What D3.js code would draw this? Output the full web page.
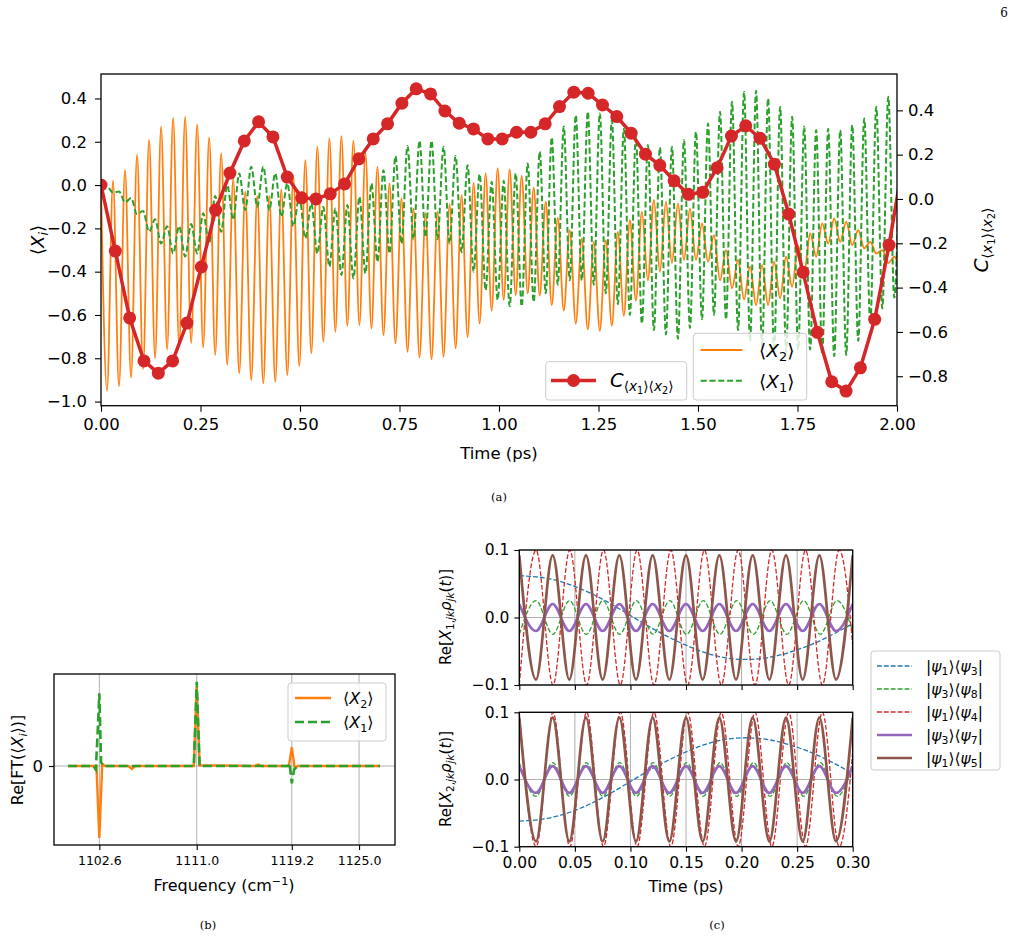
<!DOCTYPE html>
<html lang="en">
<head>
<meta charset="UTF-8">
<title>Expectation values, spectra and coherences</title>
<script src="https://cdn.jsdelivr.net/npm/d3@7"></script>
<style>
  body { margin: 0; background: #fff; }
  svg { font-family: 'DejaVu Sans', sans-serif; }
</style>
</head>
<body>
<svg id="fig" width="1016" height="943"></svg>
<script>
// ---------- panel (a) data ----------
// fast oscillation: peaks at k*T, troughs at (k+0.5)*T
var T_FAST = 0.0302;
var x2Peaks = [0.0, 0.02, 0.07, 0.14, 0.21, 0.27, 0.31, 0.315, 0.28, 0.22,
  0.146, 0.03, -0.03, -0.05, -0.05, -0.02, 0.04, 0.115, 0.177, 0.216,
  0.226, 0.205, 0.15, 0.085, 0.008, -0.06, -0.108, -0.131, -0.123, -0.088,
  -0.046, 0.01, 0.054, 0.077, 0.072, 0.042, -0.012, -0.077, -0.15, -0.208,
  -0.246, -0.262, -0.254, -0.216, -0.162, -0.123, -0.069, -0.077, -0.085, -0.108,
  -0.177, -0.231, -0.30, -0.346, -0.377, -0.37, -0.354, -0.331, -0.28, -0.223,
  -0.177, -0.154, -0.169, -0.208, -0.262, -0.30, -0.331];
var x2Troughs = [-0.95, -0.93, -0.89, -0.85, -0.80, -0.76, -0.74, -0.73, -0.75, -0.785,
  -0.83, -0.87, -0.90, -0.916, -0.908, -0.878, -0.836, -0.777, -0.724, -0.678,
  -0.651, -0.647, -0.662, -0.693, -0.731, -0.77, -0.796, -0.804, -0.793, -0.754,
  -0.703, -0.639, -0.58, -0.53, -0.508, -0.50, -0.51, -0.554, -0.58, -0.64,
  -0.667, -0.673, -0.649, -0.603, -0.535, -0.44, -0.40, -0.36, -0.346, -0.346,
  -0.354, -0.44, -0.477, -0.528, -0.554, -0.554, -0.523, -0.47, -0.408, -0.331,
  -0.27, -0.262, -0.277, -0.292, -0.316, -0.36, -0.42];
// <X1>: troughs at k*T, peaks at (k+0.5)*T
var x1Troughs = [0.0, -0.035, -0.08, -0.134, -0.215, -0.27, -0.316, -0.33, -0.316, -0.27,
  -0.216, -0.16, -0.115, -0.10, -0.115, -0.146, -0.19, -0.246, -0.316, -0.377,
  -0.415, -0.431, -0.408, -0.354, -0.316, -0.27, -0.25, -0.24, -0.25, -0.27,
  -0.31, -0.40, -0.485, -0.53, -0.56, -0.56, -0.54, -0.50, -0.46, -0.44,
  -0.44, -0.46, -0.50, -0.55, -0.60, -0.64, -0.67, -0.69, -0.71, -0.66,
  -0.62, -0.60, -0.62, -0.67, -0.72, -0.75, -0.77, -0.77, -0.76, -0.76,
  -0.78, -0.79, -0.785, -0.72, -0.64, -0.57, -0.52];
var x1Peaks = [-0.005, -0.03, -0.06, -0.12, -0.158, -0.19, -0.19, -0.18, -0.13, -0.05,
  0.0, 0.054, 0.085, 0.085, 0.054, 0.008, -0.054, -0.085, -0.10, -0.108,
  -0.092, -0.054, 0.008, 0.069, 0.134, 0.18, 0.205, 0.205, 0.177, 0.134,
  0.092, 0.05, 0.015, 0.02, 0.054, 0.10, 0.155, 0.22, 0.27, 0.323,
  0.339, 0.331, 0.30, 0.26, 0.223, 0.185, 0.174, 0.177, 0.208, 0.246,
  0.284, 0.339, 0.385, 0.431, 0.436, 0.40, 0.362, 0.316, 0.27, 0.254,
  0.26, 0.254, 0.277, 0.308, 0.362, 0.408, 0.42];
// correlation C, one value every 0.036 ps
var corrStep = 0.036;
var corrValues = [0.063, -0.235, -0.537, -0.731, -0.786, -0.731, -0.560, -0.307, -0.050, 0.117,
  0.262, 0.348, 0.280, 0.099, 0.005, 0.0, 0.023, 0.068, 0.181, 0.271,
  0.339, 0.432, 0.497, 0.474, 0.397, 0.342, 0.316, 0.271, 0.271, 0.301,
  0.301, 0.339, 0.417, 0.482, 0.477, 0.424, 0.372, 0.297, 0.202, 0.152,
  0.082, 0.021, 0.030, 0.141, 0.284, 0.330, 0.274, 0.157, -0.068, -0.331,
  -0.602, -0.825, -0.867, -0.762, -0.543, -0.208, 0.172];
var timeTicksA = [0, 0.25, 0.5, 0.75, 1.0, 1.25, 1.5, 1.75, 2.0];
var xiTicks = [-1.0, -0.8, -0.6, -0.4, -0.2, 0.0, 0.2, 0.4];
var corrTicks = [-0.8, -0.6, -0.4, -0.2, 0.0, 0.2, 0.4];

// ---------- panel (b) data ----------
var freqTicks = [1102.6, 1111.0, 1119.2, 1125.0];
var ftFreqX2 = [1099.9, 1102.0, 1102.35, 1102.6, 1102.85, 1103.1, 1105.1, 1105.4, 1105.7, 1110.75,
  1111.0, 1111.25, 1116.0, 1116.3, 1116.6, 1118.95, 1119.2, 1119.45, 1119.7, 1126.8];
var ftValX2 = [0, 0, 0.0, -1.0, 0.03, 0, 0, -0.04, 0, 0,
  1.10, 0.01, 0, 0.02, 0, 0, 0.26, -0.03, 0, 0];
var ftFreqX1 = [1099.9, 1102.1, 1102.3, 1102.45, 1102.6, 1102.75, 1102.95, 1110.75, 1111.0, 1111.25,
  1118.9, 1119.0, 1119.2, 1119.4, 1119.7, 1126.8];
var ftValX1 = [0, 0, -0.05, 0.45, 1.01, 0.05, 0, 0, 1.17, 0,
  0, 0.04, -0.24, -0.05, 0, 0];

// ---------- panel (c) data ----------
var timeTicksC = [0, 0.05, 0.10, 0.15, 0.20, 0.25, 0.30];
var cTicksY = [-0.1, 0.0, 0.1];
var slowTime = [0, 0.025, 0.05, 0.075, 0.1, 0.125, 0.15, 0.175, 0.2, 0.225, 0.25, 0.275, 0.3];
var blue1 = [0.062, 0.058, 0.046, 0.027, 0.003, -0.021, -0.041, -0.056, -0.062, -0.059, -0.048, -0.031, -0.009];
var blue2 = [-0.062, -0.058, -0.046, -0.027, -0.003, 0.021, 0.041, 0.056, 0.062, 0.059, 0.048, 0.031, 0.009];
// half periods (ps) and successive extrema of the fast terms
var halfGreen = 0.01505, halfRed = 0.01515, halfPurple = 0.015, halfBrown = 0.015;
var green1 = [-0.025, 0.025, -0.025, 0.025, -0.025, 0.025, -0.025, 0.025, -0.025, 0.025, -0.025,
  0.025, -0.025, 0.025, -0.025, 0.025, -0.025, 0.025, -0.025, 0.025, -0.025];
var green2 = [0.025, -0.025, 0.025, -0.025, 0.025, -0.025, 0.025, -0.025, 0.025, -0.025, 0.025,
  -0.025, 0.025, -0.025, 0.025, -0.025, 0.025, -0.025, 0.025, -0.025, 0.025];
var red1 = [-0.1, 0.1, -0.1, 0.1, -0.1, 0.1, -0.1, 0.1, -0.1, 0.1, -0.1,
  0.1, -0.1, 0.1, -0.1, 0.1, -0.1, 0.1, -0.1, 0.1, -0.1];
var red2 = [0.1, -0.1, 0.1, -0.1, 0.1, -0.1, 0.1, -0.1, 0.1, -0.1, 0.1,
  -0.1, 0.1, -0.1, 0.1, -0.1, 0.1, -0.1, 0.1, -0.1, 0.1];
var purple1 = [0.02, -0.02, 0.02, -0.02, 0.02, -0.02, 0.02, -0.02, 0.02, -0.02, 0.02,
  -0.02, 0.02, -0.02, 0.02, -0.02, 0.02, -0.02, 0.02, -0.02, 0.02];
var purple2 = purple1.slice();
var brown1 = [0.092, -0.092, 0.092, -0.092, 0.092, -0.092, 0.092, -0.092, 0.092, -0.092, 0.092,
  -0.092, 0.092, -0.092, 0.092, -0.092, 0.092, -0.092, 0.092, -0.092, 0.092];
var brown2 = brown1.slice();

// ---------- helpers ----------
var FONT = "'DejaVu Sans', sans-serif";
var SERIF = "'DejaVu Serif', serif";
var C_BLUE = '#1f77b4', C_ORANGE = '#ff7f0e', C_GREEN = '#2ca02c',
    C_RED = '#d62728', C_PURPLE = '#9467bd', C_BROWN = '#8c564b';
var svg = d3.select('#fig');

// parts: [text, italic, level]; level 0 normal, 1 subscript, 2 sub-subscript, -1 superscript
function mathText(text, parts, size) {
  var shift = {'0': 0, '1': 0.22 * size, '2': 0.36 * size, '-1': -0.38 * size};
  var scale = {'0': 1, '1': 0.7, '2': 0.5, '-1': 0.7};
  var cur = 0;
  parts.forEach(function(p) {
    var lv = String(p[2] || 0);
    text.append('tspan')
      .attr('dy', shift[lv] - cur)
      .style('font-size', (size * scale[lv]) + 'px')
      .style('font-style', p[1] ? 'italic' : 'normal')
      .text(p[0]);
    cur = shift[lv];
  });
  return text;
}

function interleave(first, second, half) {
  var pts = [];
  for (var k = 0; k < Math.max(first.length, second.length); k++) {
    if (k < first.length) pts.push([2 * k * half, first[k]]);
    if (k < second.length) pts.push([(2 * k + 1) * half, second[k]]);
  }
  return pts;
}

function alternating(vals, half) {
  return vals.map(function(v, i) { return [i * half, v]; });
}

function styleAxis(g, size) {
  g.select('.domain').remove();
  g.selectAll('.tick line').attr('stroke', '#000').attr('stroke-width', 1.1);
  g.selectAll('.tick text').attr('fill', '#000')
    .style('font-family', FONT).style('font-size', size + 'px');
}

function clipRect(id, x0, y0, x1, y1) {
  svg.append('clipPath').attr('id', id).append('rect')
    .attr('x', x0).attr('y', y0).attr('width', x1 - x0).attr('height', y1 - y0);
  return 'url(#' + id + ')';
}

function spines(x0, y0, x1, y1) {
  svg.append('rect').attr('x', x0).attr('y', y0).attr('width', x1 - x0).attr('height', y1 - y0)
    .attr('fill', 'none').attr('stroke', '#000').attr('stroke-width', 1.3);
}

function legendBox(x, y, w, h) {
  svg.append('rect').attr('x', x).attr('y', y).attr('width', w).attr('height', h)
    .attr('rx', 3).attr('fill', '#fff').attr('fill-opacity', 0.8)
    .attr('stroke', '#cccccc').attr('stroke-width', 1);
}

// ---------- panel (a) ----------
var aL = 101, aR = 897, aT = 74, aB = 405.7;
var xA = d3.scaleLinear().domain([0, 2]).range([aL, aR]);
var yA = d3.scaleLinear().domain([-1.019, 0.513]).range([aB, aT]);
var yCorr = d3.scaleLinear().domain([-0.933, 0.564]).range([aB, aT]);
var clipA = clipRect('clipA', aL, aT, aR, aB);

var lineA = d3.line().x(function(d) { return xA(d[0]); }).y(function(d) { return yA(d[1]); })
  .curve(d3.curveMonotoneX);
var gA = svg.append('g').attr('clip-path', clipA);
gA.append('path').datum(interleave(x2Peaks, x2Troughs, T_FAST / 2))
  .attr('d', lineA).attr('fill', 'none').attr('stroke', C_ORANGE).attr('stroke-width', 1.8);
gA.append('path').datum(interleave(x1Troughs, x1Peaks, T_FAST / 2))
  .attr('d', lineA).attr('fill', 'none').attr('stroke', C_GREEN).attr('stroke-width', 2.0)
  .attr('stroke-dasharray', '6,2.8');

var corrPts = corrValues.map(function(v, i) { return [i * corrStep, v]; });
gA.append('path').datum(corrPts)
  .attr('d', d3.line().x(function(d) { return xA(d[0]); }).y(function(d) { return yCorr(d[1]); }))
  .attr('fill', 'none').attr('stroke', C_RED).attr('stroke-width', 3.5);
gA.selectAll('circle.corr').data(corrPts).enter().append('circle').attr('class', 'corr')
  .attr('cx', function(d) { return xA(d[0]); }).attr('cy', function(d) { return yCorr(d[1]); })
  .attr('r', 6.5).attr('fill', C_RED);

var axA = svg.append('g').attr('transform', 'translate(0,' + aB + ')')
  .call(d3.axisBottom(xA).tickValues(timeTicksA).tickFormat(d3.format('.2f')).tickSize(6).tickPadding(7));
styleAxis(axA, 16.5);
var ayA = svg.append('g').attr('transform', 'translate(' + aL + ',0)')
  .call(d3.axisLeft(yA).tickValues(xiTicks).tickFormat(d3.format('.1f')).tickSize(6).tickPadding(8));
styleAxis(ayA, 16.5);
var ayC = svg.append('g').attr('transform', 'translate(' + aR + ',0)')
  .call(d3.axisRight(yCorr).tickValues(corrTicks).tickFormat(d3.format('.1f')).tickSize(6).tickPadding(5));
styleAxis(ayC, 16.5);
spines(aL, aT, aR, aB);

svg.append('text').attr('x', (aL + aR) / 2).attr('y', 459).attr('text-anchor', 'middle')
  .style('font-size', '16.5px').text('Time (ps)');
mathText(svg.append('text').attr('text-anchor', 'middle')
  .attr('transform', 'translate(44,240) rotate(-90)'),
  [['\u27E8', 0], ['X', 1], ['i', 1, 1], ['\u27E9', 0]], 18);
mathText(svg.append('text').attr('text-anchor', 'middle')
  .attr('transform', 'translate(988,240) rotate(-90)'),
  [['C', 1], ['\u27E8', 0, 1], ['x', 1, 1], ['1', 0, 2], ['\u27E9\u27E8', 0, 1], ['x', 1, 1], ['2', 0, 2], ['\u27E9', 0, 1]], 20);

// legends of (a)
legendBox(545.7, 361.7, 141, 38.3);
svg.append('line').attr('x1', 551).attr('x2', 596).attr('y1', 380.5).attr('y2', 380.5)
  .attr('stroke', C_RED).attr('stroke-width', 3.5);
svg.append('circle').attr('cx', 573.5).attr('cy', 380.5).attr('r', 6.5).attr('fill', C_RED);
mathText(svg.append('text').attr('x', 610).attr('y', 387),
  [['C', 1], ['\u27E8', 0, 1], ['x', 1, 1], ['1', 0, 2], ['\u27E9\u27E8', 0, 1], ['x', 1, 1], ['2', 0, 2], ['\u27E9', 0, 1]], 19.5);

legendBox(693.3, 333.3, 113.4, 66.7);
svg.append('line').attr('x1', 700.7).attr('x2', 742.3).attr('y1', 350).attr('y2', 350)
  .attr('stroke', C_ORANGE).attr('stroke-width', 1.8);
svg.append('line').attr('x1', 700.7).attr('x2', 742.3).attr('y1', 380.7).attr('y2', 380.7)
  .attr('stroke', C_GREEN).attr('stroke-width', 2.0).attr('stroke-dasharray', '6,2.8');
mathText(svg.append('text').attr('x', 759).attr('y', 356.5),
  [['\u27E8', 0], ['X', 1], ['2', 0, 1], ['\u27E9', 0]], 18.5);
mathText(svg.append('text').attr('x', 759).attr('y', 387.5),
  [['\u27E8', 0], ['X', 1], ['1', 0, 1], ['\u27E9', 0]], 18.5);

// ---------- panel (b) ----------
var bL = 54, bR = 395, bT = 674, bB = 845;
var xB = d3.scaleLinear().domain([1098.69, 1128.1]).range([bL, bR]);
var yB = d3.scaleLinear().domain([-1.097, 1.278]).range([bB, bT]);
var clipB = clipRect('clipB', bL, bT, bR, bB);
var gB = svg.append('g');
gB.selectAll('line.vg').data(freqTicks).enter().append('line')
  .attr('x1', function(d) { return xB(d); }).attr('x2', function(d) { return xB(d); })
  .attr('y1', bT).attr('y2', bB).attr('stroke', '#b0b0b0').attr('stroke-width', 1);
gB.append('line').attr('x1', bL).attr('x2', bR).attr('y1', yB(0)).attr('y2', yB(0))
  .attr('stroke', '#b0b0b0').attr('stroke-width', 1);
var lineB = d3.line().x(function(d) { return xB(d[0]); }).y(function(d) { return yB(d[1]); });
var gBc = svg.append('g').attr('clip-path', clipB);
gBc.append('path').datum(ftFreqX2.map(function(f, i) { return [f, ftValX2[i]]; }))
  .attr('d', lineB).attr('fill', 'none').attr('stroke', C_ORANGE).attr('stroke-width', 2.4);
gBc.append('path').datum(ftFreqX1.map(function(f, i) { return [f, ftValX1[i]]; }))
  .attr('d', lineB).attr('fill', 'none').attr('stroke', C_GREEN).attr('stroke-width', 2.6)
  .attr('stroke-dasharray', '9,4');
var axB = svg.append('g').attr('transform', 'translate(0,' + bB + ')')
  .call(d3.axisBottom(xB).tickValues(freqTicks).tickFormat(d3.format('.1f')).tickSize(5).tickPadding(6));
styleAxis(axB, 12.5);
var ayB = svg.append('g').attr('transform', 'translate(' + bL + ',0)')
  .call(d3.axisLeft(yB).tickValues([0]).tickFormat(d3.format('d')).tickSize(5).tickPadding(6));
styleAxis(ayB, 16.5);
spines(bL, bT, bR, bB);
mathText(svg.append('text').attr('x', 224).attr('y', 891).attr('text-anchor', 'middle'),
  [['Frequency (cm', 0], ['\u22121', 0, -1], [')', 0]], 16);
mathText(svg.append('text').attr('text-anchor', 'middle')
  .attr('transform', 'translate(23,760) rotate(-90)'),
  [['Re[FT(\u27E8', 0], ['X', 1], ['i', 1, 1], ['\u27E9)]', 0]], 16);
legendBox(288, 683, 98, 58);
svg.append('line').attr('x1', 295).attr('x2', 331).attr('y1', 698).attr('y2', 698)
  .attr('stroke', C_ORANGE).attr('stroke-width', 2.4);
svg.append('line').attr('x1', 295).attr('x2', 331).attr('y1', 722).attr('y2', 722)
  .attr('stroke', C_GREEN).attr('stroke-width', 2.6).attr('stroke-dasharray', '9,4');
mathText(svg.append('text').attr('x', 343).attr('y', 704),
  [['\u27E8', 0], ['X', 1], ['2', 0, 1], ['\u27E9', 0]], 16);
mathText(svg.append('text').attr('x', 343).attr('y', 728),
  [['\u27E8', 0], ['X', 1], ['1', 0, 1], ['\u27E9', 0]], 16);

// ---------- panel (c) ----------
var cL = 519.3, cR = 852.7;
var xC = d3.scaleLinear().domain([0, 0.3]).range([cL, cR]);
var panelsC = [
  {top: 550, bottom: 685, blue: blue1, green: green1, red: red1, purple: purple1, brown: brown1,
   label: '1,', labelY: 617, ticks: false},
  {top: 712.3, bottom: 846.7, blue: blue2, green: green2, red: red2, purple: purple2, brown: brown2,
   label: '2,', labelY: 779, ticks: true}
];
panelsC.forEach(function(p, idx) {
  var y = d3.scaleLinear().domain([-0.1, 0.1]).range([p.bottom, p.top]);
  var clip = clipRect('clipC' + idx, cL, p.top, cR, p.bottom);
  var grid = svg.append('g');
  grid.selectAll('line.vg').data(timeTicksC).enter().append('line')
    .attr('x1', function(d) { return xC(d); }).attr('x2', function(d) { return xC(d); })
    .attr('y1', p.top).attr('y2', p.bottom).attr('stroke', '#b0b0b0').attr('stroke-width', 1);
  grid.selectAll('line.hg').data(cTicksY).enter().append('line')
    .attr('x1', cL).attr('x2', cR).attr('y1', function(d) { return y(d); }).attr('y2', function(d) { return y(d); })
    .attr('stroke', '#b0b0b0').attr('stroke-width', 1);
  var smooth = d3.line().x(function(d) { return xC(d[0]); }).y(function(d) { return y(d[1]); })
    .curve(d3.curveMonotoneX);
  var g = svg.append('g').attr('clip-path', clip);
  g.append('path').datum(slowTime.map(function(t, i) { return [t, p.blue[i]]; }))
    .attr('d', d3.line().x(function(d) { return xC(d[0]); }).y(function(d) { return y(d[1]); }).curve(d3.curveNatural))
    .attr('fill', 'none').attr('stroke', C_BLUE).attr('stroke-width', 1.3).attr('stroke-dasharray', '4.8,2.1');
  g.append('path').datum(alternating(p.green, halfGreen)).attr('d', smooth)
    .attr('fill', 'none').attr('stroke', C_GREEN).attr('stroke-width', 1.3).attr('stroke-dasharray', '4.8,2.1');
  g.append('path').datum(alternating(p.red, halfRed)).attr('d', smooth)
    .attr('fill', 'none').attr('stroke', C_RED).attr('stroke-width', 1.3).attr('stroke-dasharray', '4.8,2.1');
  g.append('path').datum(alternating(p.purple, halfPurple)).attr('d', smooth)
    .attr('fill', 'none').attr('stroke', C_PURPLE).attr('stroke-width', 2.7);
  g.append('path').datum(alternating(p.brown, halfBrown)).attr('d', smooth)
    .attr('fill', 'none').attr('stroke', C_BROWN).attr('stroke-width', 2.7);

  var ax = svg.append('g').attr('transform', 'translate(0,' + p.bottom + ')')
    .call(d3.axisBottom(xC).tickValues(timeTicksC).tickFormat(p.ticks ? d3.format('.2f') : '')
      .tickSize(5).tickPadding(5));
  styleAxis(ax, 15.5);
  var ay = svg.append('g').attr('transform', 'translate(' + cL + ',0)')
    .call(d3.axisLeft(y).tickValues(cTicksY).tickFormat(d3.format('.1f')).tickSize(5).tickPadding(5));
  styleAxis(ay, 15.5);
  spines(cL, p.top, cR, p.bottom);
  mathText(svg.append('text').attr('text-anchor', 'middle')
    .attr('transform', 'translate(451,' + p.labelY + ') rotate(-90)'),
    [['Re[', 0], ['X', 1], [p.label, 0, 1], ['jk', 1, 1], ['\u03C1', 1], ['jk', 1, 1], ['(', 0], ['t', 1], [')]', 0]], 15);
});
svg.append('text').attr('x', (cL + cR) / 2).attr('y', 892).attr('text-anchor', 'middle')
  .style('font-size', '16px').text('Time (ps)');

// legend of (c)
var legC = [
  {c: C_BLUE, dash: true, a: '1', b: '3'},
  {c: C_GREEN, dash: true, a: '3', b: '8'},
  {c: C_RED, dash: true, a: '1', b: '4'},
  {c: C_PURPLE, dash: false, a: '3', b: '7'},
  {c: C_BROWN, dash: false, a: '1', b: '5'}
];
legendBox(871, 651, 129, 119);
legC.forEach(function(e, i) {
  var yy = 666 + i * 23;
  svg.append('line').attr('x1', 877).attr('x2', 912).attr('y1', yy).attr('y2', yy)
    .attr('stroke', e.c).attr('stroke-width', e.dash ? 1.3 : 2.7)
    .attr('stroke-dasharray', e.dash ? '4.8,2.1' : null);
  mathText(svg.append('text').attr('x', 926).attr('y', yy + 5.5),
    [['|', 0], ['\u03C8', 1], [e.a, 0, 1], ['\u27E9\u27E8', 0], ['\u03C8', 1], [e.b, 0, 1], ['|', 0]], 15.5);
});

// ---------- captions ----------
svg.append('text').attr('x', 1008).attr('y', 17).attr('text-anchor', 'end')
  .style('font-family', SERIF).style('font-size', '12px').text('6');
[['(a)', 499, 501], ['(b)', 208, 929], ['(c)', 717, 929]].forEach(function(c) {
  svg.append('text').attr('x', c[1]).attr('y', c[2]).attr('text-anchor', 'middle')
    .style('font-family', SERIF).style('font-size', '11.5px').text(c[0]);
});
</script>
</body>
</html>
